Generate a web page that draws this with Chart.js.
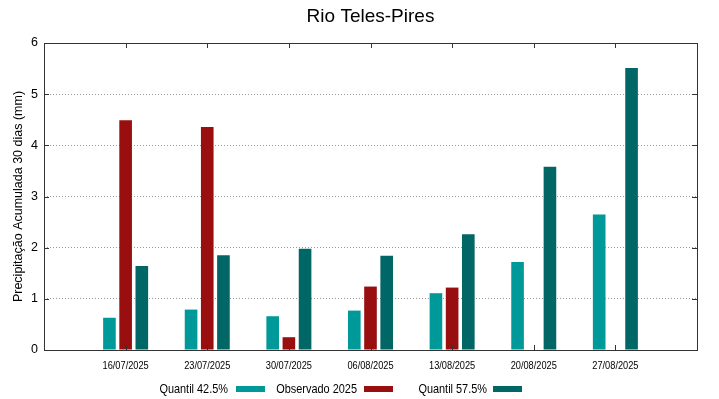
<!DOCTYPE html>
<html>
<head>
<meta charset="utf-8">
<script src="https://cdn.jsdelivr.net/npm/chart.js@4"></script>
<style>
  html, body { margin: 0; padding: 0; background: #fff; }
  #wrap { width: 719px; height: 399px; }
</style>
</head>
<body>
<div id="wrap"><canvas id="c" width="719" height="399"></canvas></div>
<script>
// dados (mm)
const datas = ["16/07/2025", "23/07/2025", "30/07/2025", "06/08/2025", "13/08/2025", "20/08/2025", "27/08/2025"];
const quantil425 = [0.63, 0.79, 0.66, 0.77, 1.11, 1.72, 2.65];
const observado2025 = [4.49, 4.36, 0.25, 1.24, 1.22, null, null];
const quantil575 = [1.64, 1.85, 1.98, 1.84, 2.26, 3.58, 5.51];
const yTicks = [0, 1, 2, 3, 4, 5, 6];

const FONT = "'Liberation Sans', Arial, sans-serif";
const APERTO = 0.84; // gnuplot usa fonte mais estreita nos rótulos de x e na legenda
// categoria vazia em cada ponta, como o gnuplot deixa
const labels = ["", ...datas, ""];
const pad = (arr) => [null, ...arr, null];

const textoEstreito = (ctx, t, x, y) => ctx.fillText(t, x, y, ctx.measureText(t).width * APERTO);

// moldura + marcas internas + rótulos de x (estilo gnuplot)
const frame = {
  id: "frame",
  afterDraw(chart) {
    const { ctx, chartArea: a, scales: { x, y } } = chart;
    ctx.save();
    ctx.strokeStyle = "#333";
    ctx.lineWidth = 1;
    ctx.strokeRect(Math.round(a.left) + 0.5, Math.round(a.top) + 0.5, Math.round(a.right - a.left), Math.round(a.bottom - a.top));
    ctx.beginPath();
    datas.forEach((_, i) => {
      const px = Math.round(x.getPixelForValue(i + 1)) + 0.5;
      ctx.moveTo(px, a.top); ctx.lineTo(px, a.top + 5);
      ctx.moveTo(px, a.bottom); ctx.lineTo(px, a.bottom - 5);
    });
    yTicks.forEach((v) => {
      const py = Math.round(y.getPixelForValue(v)) + 0.5;
      ctx.moveTo(a.left, py); ctx.lineTo(a.left + 5, py);
      ctx.moveTo(a.right, py); ctx.lineTo(a.right - 5, py);
    });
    ctx.stroke();
    ctx.font = `11px ${FONT}`;
    ctx.fillStyle = "#000";
    ctx.textAlign = "center";
    ctx.textBaseline = "middle";
    datas.forEach((d, i) => textoEstreito(ctx, d, x.getPixelForValue(i + 1), a.bottom + 16));
    ctx.restore();
  },
};

// legenda: texto à esquerda, amostra à direita
const legendaGnu = {
  id: "legendaGnu",
  afterDraw(chart) {
    const { ctx } = chart;
    const pos = [[228, 236], [357, 364], [487, 493]];
    ctx.save();
    ctx.font = `13px ${FONT}`;
    ctx.textAlign = "right";
    ctx.textBaseline = "middle";
    chart.data.datasets.forEach((ds, i) => {
      const [tx, bx] = pos[i];
      ctx.fillStyle = "#000";
      textoEstreito(ctx, ds.label, tx, 389);
      ctx.fillStyle = ds.backgroundColor;
      ctx.fillRect(bx, 386, 29, 6);
    });
    ctx.restore();
  },
};

new Chart(document.getElementById("c"), {
  type: "bar",
  data: {
    labels,
    datasets: [
      { label: "Quantil 42.5%", data: pad(quantil425), backgroundColor: "#009999" },
      { label: "Observado 2025", data: pad(observado2025), backgroundColor: "#990e0e" },
      { label: "Quantil 57.5%", data: pad(quantil575), backgroundColor: "#006666" },
    ],
  },
  options: {
    responsive: false,
    animation: false,
    devicePixelRatio: 1,
    categoryPercentage: 0.595,
    barPercentage: 0.78,
    layout: { padding: { top: 0, right: 22, bottom: 0, left: 0 } },
    plugins: {
      legend: { display: false },
      tooltip: { enabled: false },
      title: {
        display: true,
        text: "Rio Teles-Pires",
        fullSize: false,
        color: "#000",
        font: { family: FONT, size: 19, weight: "normal", lineHeight: 1.2 },
        padding: { top: 5, bottom: 15.2 },
      },
    },
    scales: {
      x: {
        offset: false,
        grid: { display: false, drawTicks: false },
        border: { display: false },
        ticks: { display: false },
        afterFit: (s) => { s.height = 49; },
      },
      y: {
        min: 0,
        max: 6,
        ticks: { stepSize: 1, color: "#000", font: { family: FONT, size: 12.5 }, padding: 6 },
        grid: {
          drawTicks: false,
          color: (c) => (c.tick.value === 0 || c.tick.value === 6 ? "rgba(0,0,0,0)" : "#999"),
          lineWidth: 1,
        },
        border: { display: false, dash: [1, 2] },
        title: {
          display: true,
          text: "Precipitação Acumulada 30 dias (mm)",
          color: "#000",
          font: { family: FONT, size: 12.5 },
          padding: { top: 11, bottom: 4 },
        },
        afterFit: (s) => { s.width = 44; },
      },
    },
  },
  plugins: [frame, legendaGnu],
});
</script>
</body>
</html>
